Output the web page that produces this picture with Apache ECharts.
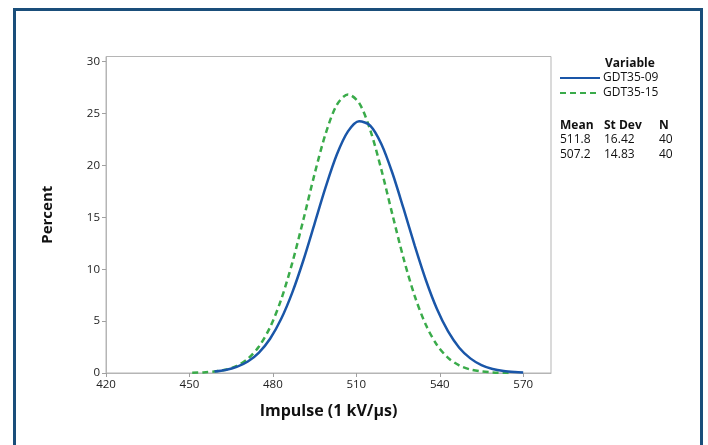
<!DOCTYPE html>
<html>
<head>
<meta charset="utf-8">
<script src="https://cdn.jsdelivr.net/npm/echarts@6/dist/echarts.min.js"></script>
<style>
html,body{margin:0;padding:0;background:#fff;}
#c{width:708px;height:445px;}
</style>
</head>
<body>
<div id="c"></div>
<script>
// Values
var xTicks = [420, 450, 480, 510, 540, 570];
var yTicks = [0, 5, 10, 15, 20, 25, 30];

var x09 = [459, 463, 467, 471, 475, 479, 483, 487, 491, 495, 499, 503, 507, 511, 515, 519, 523, 527, 531, 535, 539, 543, 547, 551, 555, 559, 563, 567, 570];
var y09 = [0.14, 0.29, 0.59, 1.11, 1.97, 3.3, 5.22, 7.77, 10.89, 14.4, 17.93, 21.05, 23.28, 24.27, 23.84, 22.07, 19.25, 15.83, 12.27, 8.96, 6.16, 4.0, 2.44, 1.41, 0.76, 0.39, 0.19, 0.09, 0.05];

var x15 = [451, 455, 459, 463, 467, 471, 475, 479, 483, 487, 491, 495, 499, 503, 507, 511, 515, 519, 523, 527, 531, 535, 539, 543, 547, 551, 555, 559, 563, 565];
var y15 = [0.02, 0.06, 0.14, 0.32, 0.68, 1.37, 2.55, 4.41, 7.1, 10.64, 14.81, 19.18, 23.09, 25.84, 26.85, 26.03, 23.42, 19.6, 15.25, 11.03, 7.42, 4.64, 2.7, 1.46, 0.73, 0.34, 0.15, 0.06, 0.02, 0.01];

var seriesNames = ['GDT35-09', 'GDT35-15'];
var means = ['511.8', '507.2'];
var stdevs = ['16.42', '14.83'];
var ns = ['40', '40'];

function pairs(xs, ys) { return xs.map(function (x, i) { return [x, ys[i]]; }); }

var FONT = 'Open Sans';
var chart = echarts.init(document.getElementById('c'), null, {renderer: 'canvas'});

var graphics = [
  {type: 'rect', shape: {x: 14.5, y: 9.5, width: 687, height: 460}, style: {fill: 'none', stroke: '#1a4e7a', lineWidth: 3}, silent: true},
  {type: 'text', left: 605, top: 58, style: {text: 'Variable', font: 'bold 12px "' + FONT + '"', fill: '#111'}},
  {type: 'text', left: 560, top: 120, style: {text: 'Mean', font: 'bold 12px "' + FONT + '"', fill: '#111'}},
  {type: 'text', left: 604, top: 120, style: {text: 'St Dev', font: 'bold 12px "' + FONT + '"', fill: '#111'}},
  {type: 'text', left: 659, top: 120, style: {text: 'N', font: 'bold 12px "' + FONT + '"', fill: '#111'}}
];
for (var i = 0; i < means.length; i++) {
  var ty = 133.5 + i * 15;
  graphics.push({type: 'text', left: 560, top: ty, style: {text: means[i], font: '12px "' + FONT + '"', fill: '#111'}});
  graphics.push({type: 'text', left: 604, top: ty, style: {text: stdevs[i], font: '12px "' + FONT + '"', fill: '#111'}});
  graphics.push({type: 'text', left: 659, top: ty, style: {text: ns[i], font: '12px "' + FONT + '"', fill: '#111'}});
}

chart.setOption({
  animation: false,
  backgroundColor: '#fff',
  textStyle: {fontFamily: FONT},
  grid: {left: 106, top: 56.5, right: 157, bottom: 72, show: true, borderColor: '#b5b5b5', borderWidth: 1, containLabel: false},
  legend: {
    orient: 'vertical', left: 559, top: 71, itemWidth: 40, itemHeight: 10, itemGap: 1, padding: 0,
    data: seriesNames,
    itemStyle: {opacity: 0},
    textStyle: {fontSize: 12, lineHeight: 14, color: '#111', fontFamily: FONT, padding: [0, 0, 0, -2]},
    selectedMode: false
  },
  xAxis: {
    type: 'value', min: 420, max: 580, interval: 30,
    name: 'Impulse (1 kV/μs)', nameLocation: 'middle', nameGap: 30,
    nameTextStyle: {fontSize: 16, fontWeight: 'bold', color: '#111', fontFamily: FONT},
    axisLine: {show: true, lineStyle: {color: '#b5b5b5', width: 1}},
    axisTick: {show: true, length: 4, inside: false, lineStyle: {color: '#a0a0a0'}, customValues: xTicks},
    axisLabel: {fontSize: 11.5, color: '#222', margin: 6, customValues: xTicks},
    splitLine: {show: false}
  },
  yAxis: {
    type: 'value', min: 0, max: 30.5, interval: 5,
    name: 'Percent', nameLocation: 'middle', nameGap: 51, nameRotate: 90,
    nameTextStyle: {fontSize: 15, fontWeight: 'bold', color: '#111', fontFamily: FONT},
    axisLine: {show: true, lineStyle: {color: '#b5b5b5', width: 1}},
    axisTick: {show: true, length: 4, inside: false, lineStyle: {color: '#a0a0a0'}, customValues: yTicks},
    axisLabel: {fontSize: 11.5, color: '#222', margin: 6, customValues: yTicks},
    splitLine: {show: false}
  },
  graphic: graphics,
  series: [
    {
      name: seriesNames[0], type: 'line', data: pairs(x09, y09), smooth: 0.3,
      symbol: 'none', showSymbol: false,
      lineStyle: {color: '#1a56a8', width: 2.5, type: 'solid'},
      itemStyle: {color: '#1a56a8'}, z: 3
    },
    {
      name: seriesNames[1], type: 'line', data: pairs(x15, y15), smooth: 0.3,
      symbol: 'none', showSymbol: false,
      lineStyle: {color: '#3aab4a', width: 2.5, type: [6, 4]},
      itemStyle: {color: '#3aab4a'}, z: 2
    }
  ]
});
</script>
</body>
</html>
